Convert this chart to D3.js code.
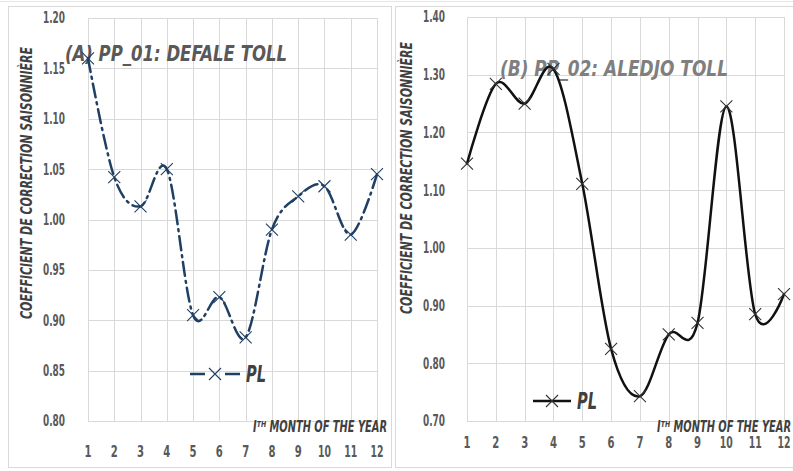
<!doctype html>
<html>
<head>
	<meta charset="utf-8">
	<style>
		body{margin:0;background:#fff;}
		svg{display:block;}
		text{font-family:"DejaVu Sans Condensed","Liberation Sans Narrow",sans-serif;font-stretch:condensed;font-weight:bold;fill:#595959;}
		.grid line{stroke:#d9d9d9;stroke-width:1;}
		.frame{fill:none;stroke:#d9d9d9;stroke-width:1;}
	</style>
</head>
<body>
	<div id="root"></div>
	<script src="https://d3js.org/d3.v7.min.js"></script>
	<script>

		var months = [1, 2, 3, 4, 5, 6, 7, 8, 9, 10, 11, 12];

		var pp01 = [1.160, 1.042, 1.013, 1.050, 0.905, 0.923, 0.883, 0.990, 1.023, 1.033, 0.985, 1.045];
		var pp02 = [1.146, 1.284, 1.250, 1.310, 1.111, 0.825, 0.743, 0.850, 0.870, 1.245, 0.885, 0.920];

		var ticks01 = [0.80, 0.85, 0.90, 0.95, 1.00, 1.05, 1.10, 1.15, 1.20];
		var ticks02 = [0.70, 0.80, 0.90, 1.00, 1.10, 1.20, 1.30, 1.40];

		var titles = ['(A) PP_01: DEFALE TOLL', '(B) PP_02: ALEDJO TOLL'];
		var legendLabel = 'PL';
		var xTitle = 'Iᵀᴴ MONTH OF THE YEAR';
		var yTitle = 'COEFFICIENT  DE CORRECTION  SAISONNIÈRE';

		var W = 793, H = 471;

		var svg = d3.select('#root').append('svg')
			.attr('width', W)
			.attr('height', H);

		// top rule + panel frames
		svg.append('line').attr('x1', 0).attr('x2', W).attr('y1', 1.5).attr('y2', 1.5)
			.attr('stroke', '#e6e6e6');
		svg.append('rect').attr('class', 'frame').attr('x', 8.5).attr('y', 6.5).attr('width', 383).attr('height', 461);
		svg.append('rect').attr('class', 'frame').attr('x', 395.5).attr('y', 6.5).attr('width', 400).attr('height', 461);

		function mark(g, x, y, r, color, w) {
			g.append('path')
				.attr('d', 'M' + (x - r) + ',' + (y - r) + 'L' + (x + r) + ',' + (y + r) +
					'M' + (x - r) + ',' + (y + r) + 'L' + (x + r) + ',' + (y - r))
				.attr('stroke', color)
				.attr('stroke-width', w)
				.attr('fill', 'none');
		}

		function panel(o) {
			var x = d3.scaleLinear().domain([1, 12]).range([o.x0, o.x1]);
			var y = d3.scaleLinear().domain(o.domain).range([o.y0, o.y1]);
			var g = svg.append('g');

			// gridlines
			var grid = g.append('g').attr('class', 'grid');
			grid.selectAll('.h').data(o.ticks).enter().append('line')
				.attr('x1', o.x0).attr('x2', o.x1)
				.attr('y1', function(d){ return Math.round(y(d)) + 0.5; })
				.attr('y2', function(d){ return Math.round(y(d)) + 0.5; });
			grid.selectAll('.v').data(months).enter().append('line')
				.attr('y1', o.y0).attr('y2', o.y1)
				.attr('x1', function(d){ return Math.round(x(d)) + 0.5; })
				.attr('x2', function(d){ return Math.round(x(d)) + 0.5; });

			// y tick labels
			g.selectAll('.yl').data(o.ticks).enter().append('text')
				.attr('x', o.yLabelX)
				.attr('y', function(d){ return y(d); })
				.attr('dy', '0.36em')
				.attr('text-anchor', 'end')
				.attr('textLength', 22)
				.attr('lengthAdjust', 'spacingAndGlyphs')
				.style('font-size', '15px')
				.text(function(d){ return d.toFixed(2); });

			// x tick labels
			g.selectAll('.xl').data(months).enter().append('text')
				.attr('x', function(d){ return x(d); })
				.attr('y', o.xLabelY)
				.attr('text-anchor', 'middle')
				.attr('textLength', function(d){ return d < 10 ? 7 : 13; })
				.attr('lengthAdjust', 'spacingAndGlyphs')
				.style('font-size', '15px')
				.text(function(d){ return d; });

			// x axis title
			g.append('text')
				.attr('x', o.xTitleX)
				.attr('y', o.xTitleY)
				.attr('textLength', 134)
				.attr('lengthAdjust', 'spacingAndGlyphs')
				.style('font-size', '15px')
				.style('font-style', 'italic')
				.style('fill', '#404040')
				.text(xTitle);

			// y axis title
			g.append('text')
				.attr('transform', 'translate(' + o.yTitleX + ',' + o.yTitleY + ') rotate(-90)')
				.attr('text-anchor', 'middle')
				.attr('textLength', 272)
				.attr('lengthAdjust', 'spacingAndGlyphs')
				.style('font-size', '15px')
				.style('font-style', 'italic')
				.style('fill', '#404040')
				.text(yTitle);

			// chart title
			g.append('text')
				.attr('x', o.titleX)
				.attr('y', o.titleY)
				.attr('textLength', o.titleLen)
				.attr('lengthAdjust', 'spacingAndGlyphs')
				.style('font-size', '21px')
				.style('font-style', 'italic')
				.style('fill', o.titleColor)
				.text(o.title);

			// series
			var line = d3.line()
				.x(function(d, i){ return x(months[i]); })
				.y(function(d){ return y(d); })
				.curve(d3.curveCardinal.tension(0));

			g.append('path')
				.datum(o.values)
				.attr('d', line)
				.attr('fill', 'none')
				.attr('stroke', o.color)
				.attr('stroke-width', 2.5)
				.attr('stroke-dasharray', o.dash)
				.attr('stroke-linecap', 'round');

			o.values.forEach(function(v, i){
				mark(g, x(months[i]), y(v), 6, o.markColor, 1.1);
			});

			// legend
			g.append('line')
				.attr('x1', o.legX).attr('x2', o.legX + o.legLen)
				.attr('y1', o.legY).attr('y2', o.legY)
				.attr('stroke', o.color)
				.attr('stroke-width', 2.5)
				.attr('stroke-dasharray', o.legDash);
			mark(g, o.legX + o.legLen / 2, o.legY, 6, o.markColor, 1.1);
			g.append('text')
				.attr('x', o.legX + o.legLen + 6)
				.attr('y', o.legY + 8)
				.attr('textLength', 20)
				.attr('lengthAdjust', 'spacingAndGlyphs')
				.style('font-size', '23px')
				.style('font-style', 'italic')
				.style('fill', '#404040')
				.text(legendLabel);
		}

		panel({
			x0: 88, x1: 377, y0: 421, y1: 18,
			domain: [0.80, 1.20], ticks: ticks01, values: pp01,
			yLabelX: 65, xLabelY: 457, xTitleX: 253, xTitleY: 432,
			yTitleX: 32, yTitleY: 183,
			title: titles[0], titleX: 65, titleY: 61, titleLen: 222, titleColor: '#595959',
			color: '#1f3f63', markColor: '#1f3f63', dash: '14,5,2,5',
			legX: 190, legLen: 50, legY: 374, legDash: '15,20,15'
		});

		panel({
			x0: 467, x1: 784, y0: 421, y1: 17,
			domain: [0.70, 1.40], ticks: ticks02, values: pp02,
			yLabelX: 445, xLabelY: 448, xTitleX: 657, xTitleY: 432,
			yTitleX: 412, yTitleY: 178,
			title: titles[1], titleX: 500, titleY: 76, titleLen: 228, titleColor: '#7f7f7f',
			color: '#111', markColor: '#333', dash: null,
			legX: 533, legLen: 38, legY: 401, legDash: null
		});
	</script>
</body>
</html>
